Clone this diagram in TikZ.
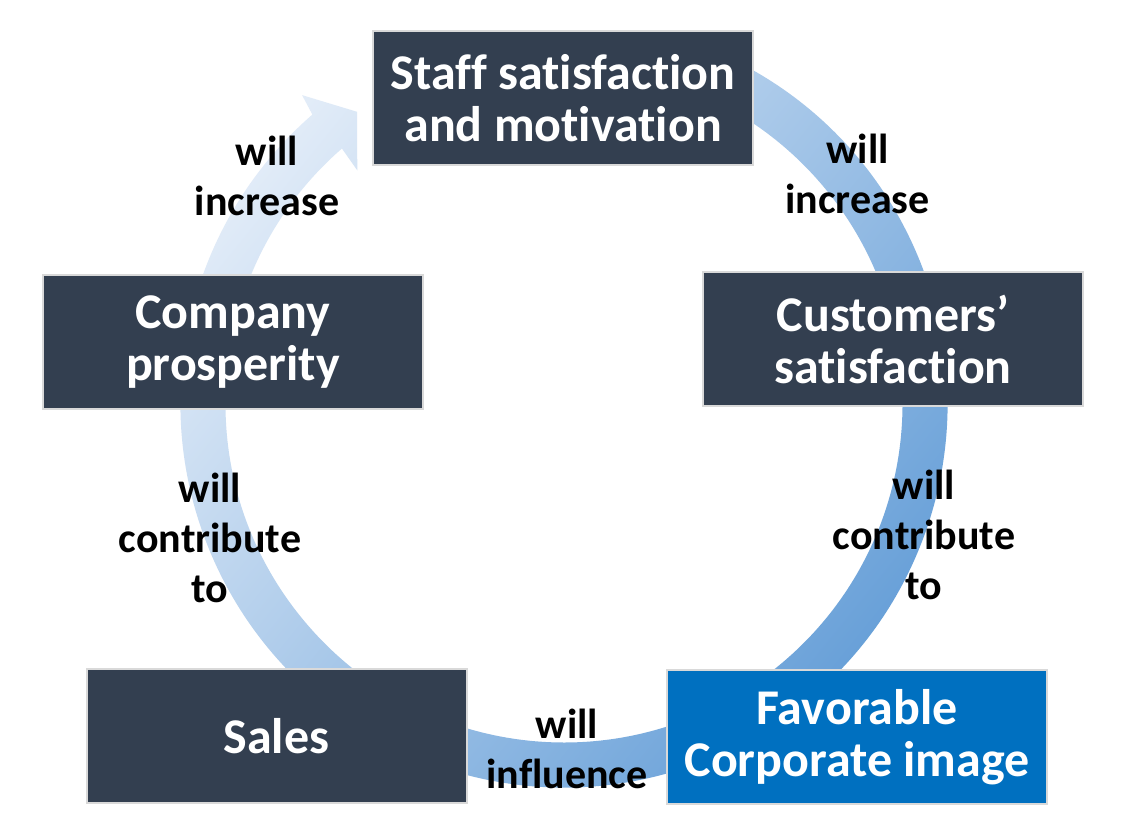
\documentclass[tikz,border=0pt]{standalone}
\usepackage{fontspec}
\setmainfont{Carlito}[Ligatures={NoCommon,NoContextual},Contextuals=NoAlternate]
\usetikzlibrary{calc}
\definecolor{navy}{HTML}{333F50}
\definecolor{corpblue}{HTML}{0070C0}
\definecolor{ringlight}{RGB}{226,236,248}
\definecolor{ringdark}{RGB}{96,155,214}
\definecolor{boxedge}{HTML}{D9D9D9}
\begin{document}
\begin{tikzpicture}[x=1pt,y=1pt,
  box/.style={draw=boxedge, line width=2pt, fill=navy, text=white,
    font=\fontsize{50}{52}\selectfont\bfseries, align=center,
    minimum width=380pt, minimum height=134pt, inner sep=0pt},
  lbl/.style={text=black, font=\fontsize{42}{50}\selectfont\bfseries,
    align=center, inner sep=0pt}]
\useasboundingbox (0,0) rectangle (1129,824);
\fill[white] (0,0) rectangle (1129,824);
\coordinate (c) at (564,420);
% circular arrow
\shade[top color=ringlight, bottom color=ringdark, shading angle=51]
  ($(c)+(68:383.5)$) arc[start angle=68, end angle=-229, radius=383.5pt]
  -- ($(c)+(130.3:405)$) -- ($(c)+(125.3:358)$) -- ($(c)+(131.5:312)$)
  -- ($(c)+(131:338.5)$)
  arc[start angle=131, end angle=428, radius=338.5pt] -- cycle;
% boxes
\node[box] (staff) at (563,726) {Staff sat\kern0pt isfact\kern0pt ion\\and mot\kern0pt ivat\kern0pt ion};
\node[box] (company) at (233,481.5) {Company\\prosperity};
\node[box] (customers) at (893,484.5) {Customers’\\sat\kern0pt isfact\kern0pt ion};
\node[box] (sales) at (276.5,87.5) {Sales};
\node[box, fill=corpblue] (image) at (857,87) {Favorable\\Corporate image};
% labels
\node[lbl] (l1) at (267,648) {will\\increase};
\node[lbl] (r1) at (857.5,650) {will\\increase};
\node[lbl] (l2) at (210,286) {will\\contribute\\to};
\node[lbl] (r2) at (924,289) {will\\contribute\\to};
\node[lbl] (b1) at (567,75) {will\\influence};
\end{tikzpicture}
\end{document}
